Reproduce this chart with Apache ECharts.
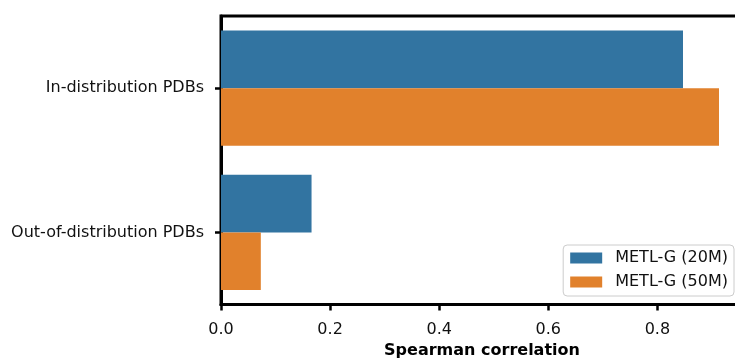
<!DOCTYPE html>
<html>
<head>
<meta charset="utf-8">
<script src="https://cdn.jsdelivr.net/npm/echarts@6/dist/echarts.min.js"></script>
<style>
  html, body { margin: 0; padding: 0; background: #fff; }
  #chart { width: 735px; height: 362px; }
</style>
</head>
<body>
<div id="chart"></div>
<script>
// Spearman correlation of METL-G predictions on two PDB test sets
const categories = ['In-distribution PDBs', 'Out-of-distribution PDBs'];
const seriesNames = ['METL-G (20M)', 'METL-G (50M)'];
const values20M = [0.847, 0.166];
const values50M = [0.913, 0.073];
const xTicks = [0, 0.2, 0.4, 0.6, 0.8];

const FONT = 'DejaVu Sans';
const chart = echarts.init(document.getElementById('chart'), null, { renderer: 'canvas' });

chart.setOption({
  animation: false,
  backgroundColor: '#ffffff',
  grid: {
    left: 221, right: -8, top: 16, bottom: 57.5,
    outerBoundsMode: 'none',
    containLabel: false,
    show: true, borderColor: '#000', borderWidth: 3, backgroundColor: 'transparent'
  },
  legend: {
    orient: 'vertical',
    right: 1, top: 245,
    data: seriesNames,
    itemWidth: 32, itemHeight: 11, itemGap: 8,
    padding: [5, 6, 6, 7],
    backgroundColor: 'rgba(255,255,255,0.8)',
    borderColor: '#cccccc', borderWidth: 1, borderRadius: 4,
    icon: 'rect',
    textStyle: { fontFamily: FONT, fontSize: 16, color: '#111', padding: [0, 0, 0, 8] }
  },
  xAxis: {
    type: 'value',
    min: 0, max: 0.957,
    name: 'Spearman correlation',
    nameLocation: 'middle',
    nameGap: 38,
    nameTextStyle: { fontFamily: FONT, fontSize: 16, fontWeight: 'bold', color: '#000' },
    axisLine: { show: true, lineStyle: { color: '#000', width: 3 } },
    axisTick: { show: true, customValues: xTicks, length: 6, lineStyle: { color: '#000', width: 2.5 } },
    axisLabel: {
      customValues: xTicks, margin: 17,
      formatter: v => v.toFixed(1),
      fontFamily: FONT, fontSize: 16, color: '#111'
    },
    splitLine: { show: false }
  },
  yAxis: {
    type: 'category',
    inverse: true,
    data: categories,
    axisLine: { show: true, lineStyle: { color: '#000', width: 3 } },
    axisTick: { show: true, alignWithLabel: true, length: 6, lineStyle: { color: '#000', width: 2.5 } },
    axisLabel: { margin: 17, fontFamily: FONT, fontSize: 16, color: '#111' }
  },
  series: [
    {
      name: seriesNames[0], type: 'bar', data: values20M,
      barCategoryGap: '20%', barGap: '0%',
      itemStyle: { color: '#3274a1' }
    },
    {
      name: seriesNames[1], type: 'bar', data: values50M,
      barCategoryGap: '20%', barGap: '0%',
      itemStyle: { color: '#e1812c' }
    }
  ]
});
</script>
</body>
</html>
